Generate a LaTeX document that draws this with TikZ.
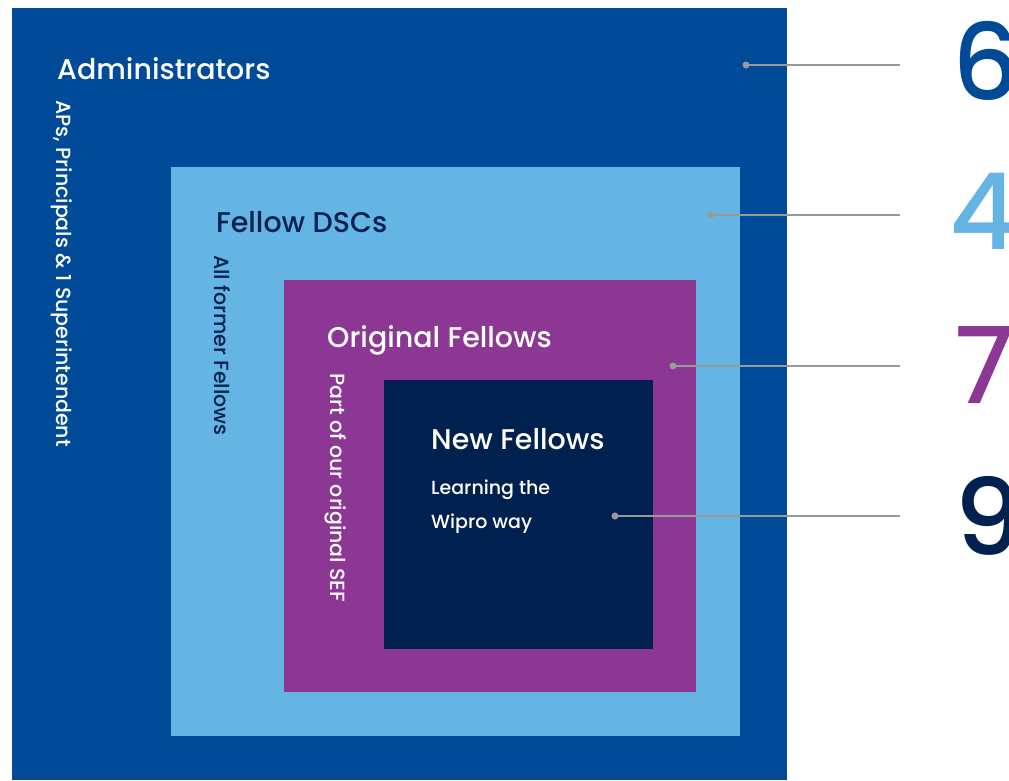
\documentclass[tikz,border=0pt]{standalone}
\usepackage{fontspec}
\setmainfont{Poppins}[UprightFont=* Medium, BoldFont=* SemiBold]
\usetikzlibrary{positioning}
\definecolor{adminblue}{RGB}{0,74,152}
\definecolor{dscblue}{RGB}{101,181,228}
\definecolor{origpurple}{RGB}{139,55,147}
\definecolor{newnavy}{RGB}{0,33,80}
\definecolor{leadgray}{RGB}{153,153,153}
\tikzset{
  layer/.style   = {rectangle, draw=none, anchor=north west, inner sep=0pt},
  title/.style   = {anchor=base west, inner sep=0pt, font=\fontsize{28.5}{35}\selectfont},
  note/.style    = {anchor=base west, inner sep=0pt, font=\fontsize{19}{23}\selectfont},
  side/.style    = {anchor=base west, inner sep=0pt, rotate=-90, font=\fontsize{20.5}{24}\selectfont},
  lead/.style    = {draw=leadgray, line width=2.4pt},
  leaddot/.style = {circle, fill=leadgray, inner sep=0pt, minimum size=7pt},
  count/.style   = {anchor=west, inner sep=0pt, font=\fontsize{106}{110}\selectfont}
}

\begin{document}
\begin{tikzpicture}[x=1pt, y=-1pt]
    \useasboundingbox (0,0) rectangle (1009,780);
    \node[layer, fill=adminblue,  minimum width=775pt, minimum height=772pt] (admin) at (12,8) {};
    \node[layer, fill=dscblue,    minimum width=569pt, minimum height=569pt] (dsc)   at (171,167) {};
    \node[layer, fill=origpurple, minimum width=412pt, minimum height=412pt] (orig)  at (284,280) {};
    \node[layer, fill=newnavy,    minimum width=269pt, minimum height=269pt] (new)   at (384,380) {};

    \node[title, text=white]   (admint) at (57,79)  {Administrators};
    \node[side,  text=white]   (admins) at (56,100) {APs, Principals \& 1 Superintendent};
    \node[title, text=newnavy] (dsct)   at (216,232) {Fellow DSCs};
    \node[side,  text=newnavy] (dscs)   at (214,255) {All former Fellows};
    \node[title, text=white]   (origt)  at (327,347) {Original Fellows};
    \node[side,  text=white]   (origs)  at (330,373) {Part of our original SEF};
    \node[title, text=white]   (newt)   at (431,449) {New Fellows};
    \node[note,  text=white]   (news1)  at (431,494) {Learning the};
    \node[note,  text=white]   (news2)  at (431,528) {Wipro way};

    \node[leaddot] (d6) at (746,65) {};
    \node[leaddot] (d4) at (711,215) {};
    \node[leaddot] (d7) at (673,366) {};
    \node[leaddot] (d9) at (615,516) {};
    \coordinate (e6) at (900,65);
    \coordinate (e4) at (900,215);
    \coordinate (e7) at (900,366);
    \coordinate (e9) at (900,516);
    \draw[lead] (d6.center) -- (e6); \draw[lead] (d4.center) -- (e4);
    \draw[lead] (d7.center) -- (e7); \draw[lead] (d9.center) -- (e9);

    \node[count, text=adminblue]  (n6) at (952,61)  {6};
    \node[count, text=dscblue]    (n4) at (949,211) {4};
    \node[count, text=origpurple] (n7) at (954,365) {7};
    \node[count, text=newnavy]    (n9) at (954,516) {9};
  \end{tikzpicture}
\end{document}
